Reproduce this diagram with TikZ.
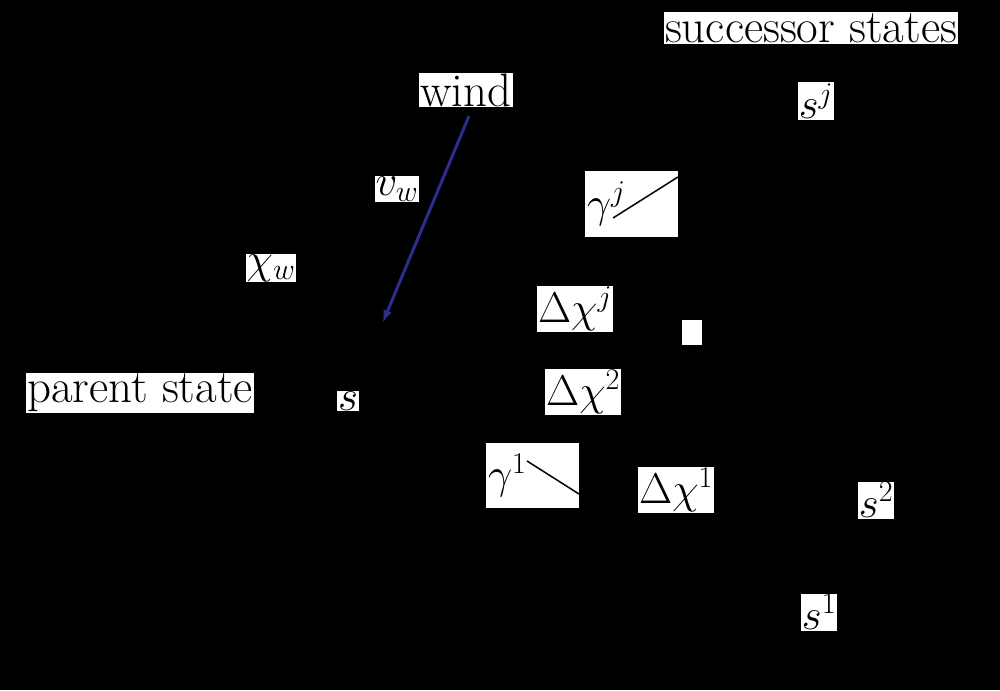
\documentclass[tikz,border=0pt]{standalone}
\usepackage{fix-cm}
\tikzset{every picture/.style={line width=1.5pt}}
\tikzset{lbl/.style={fill=white,inner sep=1pt,font=\fontsize{43}{50}\selectfont},
	word/.style={lbl,font=\fontsize{47}{54}\selectfont}}
\begin{document}
\begin{tikzpicture}[x=1pt,y=1pt,yscale=-1,xscale=1]
	%background
	\fill[black] (0,0) rectangle (1000,690);
	\useasboundingbox (0,0) rectangle (1000,690);
	
	\node[word] (succ) at (811,28) {successor states};
	\node[word] (wind) at (466,90) {wind};
	\node[lbl] (sj) at (816,101) {$s^j$};
	\node[lbl] (vw) at (397,189) {$v_w$};
	\node[lbl,minimum width=93pt,minimum height=66pt,text width=89pt,align=left,inner sep=2pt] (gj) at (631.5,204) {$\gamma^j$};
	\node[lbl] (chiw) at (271,268) {$\chi_w$};
	\node[lbl] (dchij) at (575,309) {$\Delta\chi^j$};
	\node[fill=white,minimum width=20pt,minimum height=25pt,inner sep=0pt] (mark) at (692,332.5) {};
	\node[word] (parent) at (140,393) {parent state};
	\node[lbl] (s) at (348,401) {$s$};
	\node[lbl] (dchi2) at (583,392) {$\Delta\chi^2$};
	\node[lbl,minimum width=93pt,minimum height=65pt,text width=89pt,align=left,inner sep=2pt] (g1) at (532.5,475.5) {$\gamma^1$};
	\node[lbl] (dchi1) at (676,490) {$\Delta\chi^1$};
	\node[lbl] (s2) at (876,500) {$s^2$};
	\node[lbl] (s1) at (819,612) {$s^1$};
	
	%angle lines
	\coordinate (gja) at (613,218);
	\coordinate (gjb) at (678,177);
	\coordinate (g1a) at (527,461);
	\coordinate (g1b) at (579,494);
	\draw (gja) -- (gjb);
	\draw (g1a) -- (g1b);
	
	%wind arrow
	\coordinate (wa) at (469,116);
	\coordinate (wb) at (383,322);
	\draw[-latex,color={rgb,255:red,45;green,45;blue,140},line width=3pt] (wa) -- (wb);
\end{tikzpicture}
\end{document}
